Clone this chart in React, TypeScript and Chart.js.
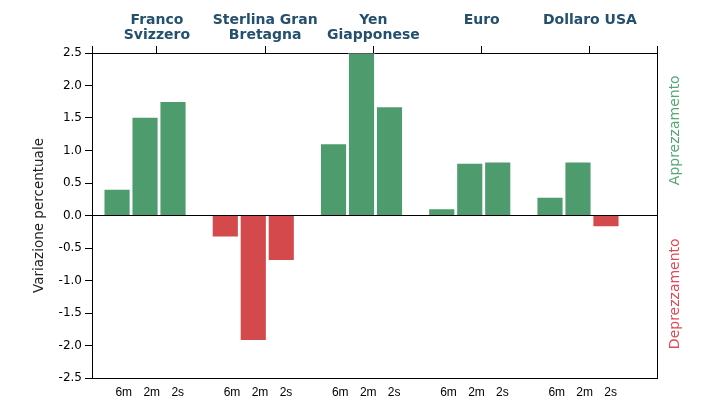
import React, { useEffect, useRef } from 'react';
import { Chart, registerables } from 'chart.js';

Chart.register(...registerables);

// ---- data ----
const currencies: string[][] = [
  ['Franco', 'Svizzero'],
  ['Sterlina Gran', 'Bretagna'],
  ['Yen', 'Giapponese'],
  ['Euro'],
  ['Dollaro USA'],
];
const horizons = ['6m', '2m', '2s'];
const values6m = [0.41, -0.34, 1.11, 0.11, 0.29];
const values2m = [1.52, -1.93, 2.5, 0.81, 0.83];
const values2s = [1.76, -0.7, 1.68, 0.83, -0.18];
const seriesValues = [values6m, values2m, values2s];
const yMin = -2.5;
const yMax = 2.5;
const yStep = 0.5;
const yTitle = 'Variazione percentuale';
const upLabel = 'Apprezzamento';
const downLabel = 'Deprezzamento';

// ---- styles ----
const GREEN = '#4e9b6e';
const RED = '#d4494b';
const GREEN_TEXT = '#55a874';
const RED_TEXT = '#e04a56';
const TITLE_BLUE = '#24506e';
const X_MIN = -0.49;
const X_MAX = 4.73;
const BAR_SLOT = 0.2585; // offset of each bar within a group, in group units
const TOP_OFFSET = 0.11;
const LABEL_SHIFT = -0.015;

const sideLabels = {
  id: 'sideLabels',
  afterDraw(chart: any) {
    const { ctx, chartArea, scales } = chart;
    const zero = scales.y.getPixelForValue(0);
    const x = chartArea.right + 18;
    const draw = (text: string, y: number, color: string) => {
      ctx.save();
      ctx.translate(x, y);
      ctx.rotate(-Math.PI / 2);
      ctx.font = '14px "DejaVu Sans"';
      ctx.fillStyle = color;
      ctx.textAlign = 'center';
      ctx.textBaseline = 'middle';
      ctx.fillText(text, 0, 0);
      ctx.restore();
    };
    draw(upLabel, (chartArea.top + zero) / 2 - 4, GREEN_TEXT);
    draw(downLabel, (zero + chartArea.bottom) / 2 - 3, RED_TEXT);
  },
};

export default function App() {
  const ref = useRef<HTMLCanvasElement>(null);

  useEffect(() => {
    if (!ref.current) return;
    const datasets = seriesValues.map((vals, si) => ({
      label: horizons[si],
      data: vals.map((v, i) => ({ x: i, y: v })),
      backgroundColor: (c: any) => ((c.raw && c.raw.y < 0) ? RED : GREEN),
      borderColor: 'rgba(255,255,255,0.35)',
      borderWidth: 1,
      borderSkipped: 'start',
      categoryPercentage: 0.7756,
      barPercentage: 0.97,
      inflateAmount: 0,
    }));

    const chart = new Chart(ref.current, {
      type: 'bar',
      data: { datasets },
      plugins: [sideLabels],
      options: {
        animation: false,
        responsive: true,
        maintainAspectRatio: false,
        layout: { padding: 0 },
        plugins: { legend: { display: false }, tooltip: { enabled: false } },
        scales: {
          x: {
            type: 'linear',
            display: false,
            offset: false,
            min: X_MIN,
            max: X_MAX,
            grid: { offset: false },
            afterBuildTicks: (s: any) => {
              s.ticks = currencies.map((_, i) => ({ value: i }));
            },
          },
          xBottom: {
            type: 'linear',
            position: 'bottom',
            offset: false,
            min: X_MIN,
            max: X_MAX,
            afterBuildTicks: (s: any) => {
              const t: any[] = [];
              currencies.forEach((_, i) => {
                horizons.forEach((h, k) => {
                  t.push({ value: i + (k - 1) * BAR_SLOT + LABEL_SHIFT, label: h });
                });
              });
              s.ticks = t;
            },
            afterFit: (s: any) => { s.height = 42; },
            grid: { display: false, drawTicks: false, offset: false },
            border: { display: true, color: '#000', width: 1 },
            ticks: {
              align: 'start',
              padding: 7,
              autoSkip: false,
              maxRotation: 0,
              color: '#000',
              font: { family: '"Liberation Sans"', size: 12 },
              callback: function (this: any, _v: any, idx: number) {
                return horizons[idx % horizons.length];
              },
            },
          },
          xTop: {
            type: 'linear',
            position: 'top',
            offset: false,
            min: X_MIN,
            max: X_MAX,
            afterBuildTicks: (s: any) => {
              const t: any[] = [{ value: X_MIN }];
              currencies.forEach((_, i) => t.push({ value: i + TOP_OFFSET }));
              t.push({ value: X_MAX });
              s.ticks = t;
            },
            afterFit: (s: any) => { s.height = 53; },
            grid: {
              display: true,
              offset: false,
              drawOnChartArea: false,
              drawTicks: true,
              tickLength: 7,
              color: '#000',
              tickColor: '#000',
            },
            border: { display: true, color: '#000', width: 1 },
            ticks: {
              padding: 3,
              autoSkip: false,
              maxRotation: 0,
              crossAlign: 'far',
              color: TITLE_BLUE,
              font: { family: '"DejaVu Sans"', size: 14, weight: 'bold', lineHeight: 1.1 },
              callback: function (this: any, _v: any, idx: number) {
                if (idx === 0 || idx > currencies.length) return '';
                return currencies[idx - 1];
              },
            },
          },
          y: {
            type: 'linear',
            position: 'left',
            min: yMin,
            max: yMax,
            afterFit: (s: any) => { s.width = 92; },
            grid: {
              display: true,
              drawOnChartArea: true,
              drawTicks: true,
              tickLength: 7,
              color: (c: any) => (c.tick && c.tick.value === 0 ? '#000' : 'rgba(0,0,0,0)'),
              tickColor: '#000',
              lineWidth: 1,
            },
            border: { display: true, color: '#000', width: 1 },
            ticks: {
              stepSize: yStep,
              padding: 3,
              color: '#000',
              font: { family: '"DejaVu Sans"', size: 12 },
              callback: (v: any) => Number(v).toFixed(1),
            },
            title: {
              display: true,
              text: yTitle,
              color: '#222',
              font: { family: '"DejaVu Sans"', size: 13.5 },
              padding: { top: 31, bottom: 0 },
            },
          },
          y2: {
            type: 'linear',
            position: 'right',
            min: yMin,
            max: yMax,
            afterFit: (s: any) => { s.width = 58; },
            grid: { display: false, drawTicks: false },
            border: { display: true, color: '#000', width: 1 },
            ticks: { display: false },
          },
        },
      } as any,
    });
    return () => chart.destroy();
  }, []);

  return (
    <div style={{ position: 'fixed', left: 0, top: 0, width: 715, height: 420, background: '#fff' }}>
      <canvas ref={ref} />
    </div>
  );
}
